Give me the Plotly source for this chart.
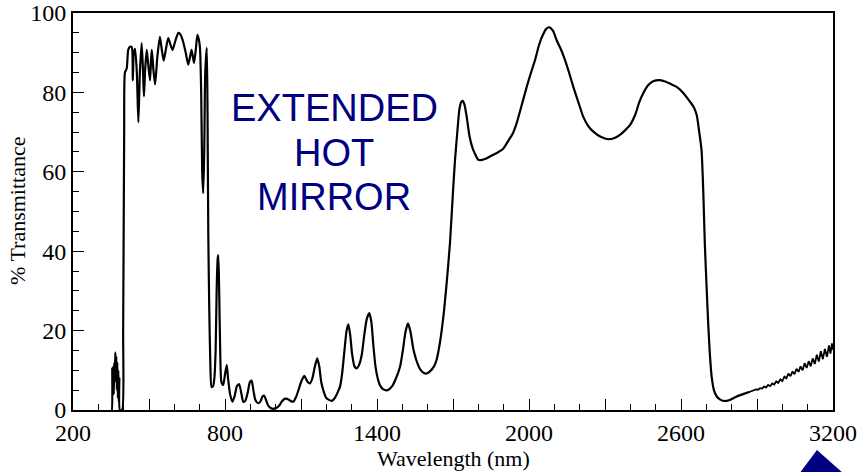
import plotly.graph_objects as go

# ---- data ----
wavelength_nm = [
    350, 353, 355, 357, 359, 361, 363, 365, 367, 369, 371, 373, 375, 377, 379, 381, 383, 385, 394, 398, 402, 405,
    412, 418, 425, 432, 436, 440, 445, 452, 458, 464, 471, 476, 480, 485, 491, 497, 504, 508, 511, 517, 524, 533,
    543, 550, 558, 567, 576, 585, 593, 604, 616, 625, 635, 645, 655, 662, 668, 673, 678, 685, 691, 696, 701, 706,
    710, 714, 718, 722, 728, 731, 734, 738, 742, 747, 753, 758, 763, 767, 771, 773.5, 777, 781, 786, 793, 800, 807,
    812, 820, 829, 838, 847, 856, 865, 872, 880, 890, 898, 905, 912, 920, 931, 940, 948, 955, 962, 970, 980, 990,
    997, 1005, 1015, 1025, 1035, 1046, 1058, 1070, 1080, 1090, 1100, 1113, 1125, 1135, 1145, 1155, 1164, 1172, 1180,
    1188, 1200, 1221, 1235, 1245, 1254, 1262, 1270, 1280, 1287, 1294, 1302, 1311, 1320, 1330, 1340, 1350, 1360,
    1370, 1378, 1386, 1394, 1402, 1412, 1425, 1442, 1460, 1475, 1491, 1502, 1512, 1522, 1532, 1543, 1555, 1570,
    1585, 1596, 1610, 1625, 1635, 1648, 1662, 1675, 1688, 1700, 1708, 1717, 1725, 1732, 1738, 1745, 1754, 1765,
    1777, 1787, 1800, 1815, 1826, 1850, 1875, 1898, 1920, 1935, 1951, 1970, 1991, 2008, 2024, 2040, 2055, 2068,
    2080, 2095, 2110, 2125, 2142, 2158, 2175, 2195, 2214, 2234, 2254, 2283, 2313, 2340, 2359, 2380, 2399, 2420,
    2435, 2451, 2470, 2490, 2517, 2540, 2560, 2583, 2610, 2635, 2650, 2662, 2672, 2681, 2688, 2694, 2701, 2708,
    2714, 2721, 2730, 2741, 2755, 2767, 2780, 2795, 2820, 2845, 2872,
]
transmittance = [
    0, 0, 10.5, 6, 11, 4, 12, 7, 14.5, 8, 13.5, 5, 12, 3, 10, 2, 8, 0, 0, 20, 70, 85,
    86, 90.7, 91.5, 91.4, 83, 90, 91, 85, 72.5, 85, 92.4, 86, 79, 86, 90.7, 87, 83, 88, 90.7, 86, 82, 89,
    94, 91, 88, 91, 93.7, 92, 90.7, 93, 95, 94.5, 92.7, 90, 87, 89, 90.7, 89, 87.4, 91, 94.5, 93.5, 91.4, 80,
    60, 54.6, 65, 85, 91.2, 75, 44.6, 25, 12, 5.8, 6, 8, 15, 30, 38, 39, 30, 15, 7, 6.3, 9, 11.3,
    8, 4, 2.1, 3.5, 6, 6.5, 4, 2.1, 2.3, 4.5, 7, 7.4, 5, 2.5, 1.7, 2.2, 3.4, 3.6, 2.5, 1.2, 0.5, 0.3,
    0.4, 0.6, 1.2, 2.2, 2.8, 2.8, 2.3, 2.1, 3.2, 5, 7, 8.6, 7.2, 6.7, 8, 11, 13, 11, 7,
    5, 3, 2.3, 3.2, 4.5, 5.9, 9, 14, 20, 21.6, 19, 14, 11, 10.5, 11.5, 14, 19, 23,
    24.4, 22, 16, 11, 8.2, 6.2, 5.2, 5, 6, 8, 10.9, 15, 19.5, 21.8, 19.8, 15.5, 12.6, 10.3,
    9.3, 9.2, 9.8, 11, 12.6, 16.8, 23.5, 32, 42, 55, 63, 70, 75.6, 77.5, 77.9, 77, 73.9, 69,
    66, 64.5, 63, 63, 63.2, 64, 64.8, 65.8, 68, 69.5, 72.2, 76.5, 81.4, 85, 88.2, 92, 94.5, 96,
    96.4, 95.5, 93, 91, 88.2, 85, 81.4, 77.5, 73.9, 71.5, 70.1, 68.8, 68.2, 68.6, 69.3, 70.5, 71.8, 74.5,
    77.5, 79.8, 81.8, 82.8, 83.1, 82.7, 82.1, 81.4, 79.8, 77.7, 76.3, 74.3, 70, 65.5, 55, 42, 31, 21,
    14, 8.4, 5, 3.4, 2.6, 2.3, 2.3, 2.6, 3.4, 4.0, 4.6,
]
# noisy detector tail
tail_nm = [2872, 2880, 2888, 2896, 2904, 2912, 2920, 2928, 2936, 2944, 2952, 2960, 2968, 2976, 2984, 2992,
           3000, 3008, 3016, 3024, 3032, 3040, 3048, 3056, 3064, 3072, 3080, 3088, 3096, 3104, 3112, 3120,
           3128, 3136, 3144, 3152, 3160, 3168, 3176, 3184, 3190, 3196, 3200]
tail_t = [4.6, 4.8, 4.9, 5.2, 5.1, 5.5, 5.4, 5.9, 5.7, 6.3, 6.0, 6.7, 6.4, 7.2, 6.8, 7.7,
          7.3, 8.4, 8.0, 9.2, 8.5, 9.7, 9.0, 10.4, 9.6, 11.0, 10.0, 11.8, 10.6, 12.3, 11.0, 13.0,
          11.6, 13.9, 12.2, 14.8, 12.8, 15.4, 13.4, 16.3, 14.2, 16.8, 15.2]

x_major = list(range(200, 3201, 300))
x_labels = ["200", "800", "1400", "2000", "2600", "3200"]
x_ticktext = [str(v) if str(v) in x_labels else "" for v in x_major]
y_major = [0, 20, 40, 60, 80, 100]

x_title = "Wavelength (nm)"
y_title = "% Transmittance"
label_lines = ["EXTENDED", "HOT", "MIRROR"]

# ---- layout geometry (pixels) ----
W, H = 865, 472
L, R, T, B = 73, 833, 13, 410


def px(xp):
    return (xp - L) / (R - L)


def py(yp):
    return (B - yp) / (B - T)


NAVY = "#000080"
SERIF = "Liberation Serif"

fig = go.Figure()
fig.add_trace(go.Scatter(x=wavelength_nm, y=transmittance, mode="lines",
                         line=dict(color="black", width=2.2, shape="spline", smoothing=0.6),
                         hoverinfo="x+y", showlegend=False))
fig.add_trace(go.Scatter(x=tail_nm, y=tail_t, mode="lines",
                         line=dict(color="black", width=1.8),
                         hoverinfo="x+y", showlegend=False))

axis_common = dict(showgrid=False, zeroline=False, showline=True, linecolor="black", linewidth=2,
                   mirror=True, ticks="inside", ticklen=11, tickwidth=1.2, tickcolor="black",
                   automargin=False,
                   tickfont=dict(family=SERIF, size=24, color="black"))

fig.update_xaxes(range=[200, 3200], tickmode="array", tickvals=x_major, ticktext=x_ticktext,
                 minor=dict(dtick=100, tick0=200, ticks="inside", ticklen=6, tickcolor="black", tickwidth=1.2),
                 **axis_common)
fig.update_yaxes(range=[0, 100], tickmode="array", tickvals=y_major,
                 minor=dict(dtick=5, tick0=0, ticks="inside", ticklen=6, tickcolor="black", tickwidth=1.2),
                 **axis_common)

# axis titles
fig.add_annotation(x=px(453), y=py(458), xref="paper", yref="paper", text=x_title, showarrow=False,
                   xanchor="center", yanchor="middle", font=dict(family=SERIF, size=22, color="black"))
fig.add_annotation(x=px(18), y=py(211), xref="paper", yref="paper", text=y_title, showarrow=False,
                   textangle=-90, xanchor="center", yanchor="middle",
                   font=dict(family=SERIF, size=22, color="black"))

centers_y = [108, 153, 197]
for txt, cy in zip(label_lines, centers_y):
    fig.add_annotation(x=px(334), y=py(cy), xref="paper", yref="paper", text=txt, showarrow=False,
                       xanchor="center", yanchor="middle",
                       font=dict(family="Liberation Sans", size=38, color=NAVY))

# decorative navy arrow tip at bottom-right corner
tri = [(799, 474), (817, 450), (844, 474)]
path = "M {} {} L {} {} L {} {} Z".format(*[v for p in tri for v in (px(p[0]), py(p[1]))])
fig.add_shape(type="path", path=path, xref="paper", yref="paper", fillcolor=NAVY, line=dict(width=0))

fig.update_layout(width=W, height=H, margin=dict(l=L, r=W - R, t=T, b=H - B, autoexpand=False),
                  paper_bgcolor="white", plot_bgcolor="white")

fig.write_html("out.html")
